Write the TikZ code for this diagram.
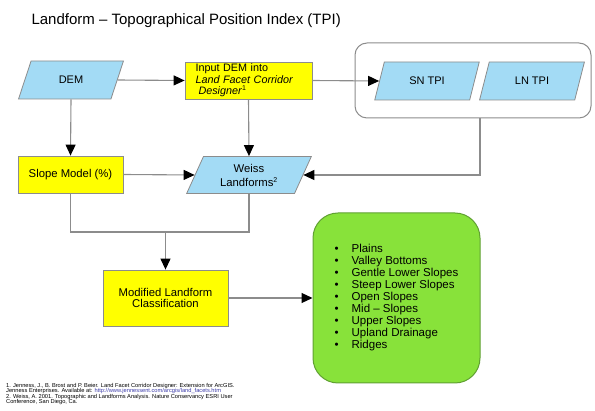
\documentclass[tikz,border=0pt]{standalone}
\usepackage{fontspec}
\setmainfont{Liberation Sans}
\usetikzlibrary{shapes.geometric,arrows.meta}

\definecolor{tpiblue}{RGB}{163,219,245}
\definecolor{tpiyellow}{RGB}{255,255,0}
\definecolor{tpigreen}{RGB}{136,226,58}
\definecolor{tpigreenline}{RGB}{96,160,50}
\definecolor{tpigray}{RGB}{140,140,140}
\definecolor{tpilink}{RGB}{60,60,170}

\tikzset{
  databox/.style={trapezium, trapezium left angle=65, trapezium right angle=115,
    trapezium stretches=true, draw=tpigray, fill=tpiblue, line width=0.8pt,
    font=\fontsize{11}{13}\selectfont, align=center, inner sep=0.5pt},
  procbox/.style={rectangle, draw=tpigray, fill=tpiyellow, line width=0.8pt,
    font=\fontsize{11.3}{11.5}\selectfont, align=center, inner sep=0.5pt},
  flowline/.style={draw=tpigray, line width=1.1pt},
  flowarrow/.style={flowline, -{Triangle[length=11pt,width=10pt,color=black]}}
}

\begin{document}
\begin{tikzpicture}[x=1pt,y=-1pt]
      \useasboundingbox (0,0) rectangle (595,411);

      \node[anchor=west, font=\fontsize{15}{17}\selectfont] (title) at (28,21)
           {Landform -- Topographical Position Index (TPI)};

      % inputs and TPI grids
      \node[databox, minimum width=105pt, minimum height=38pt] (dem) at (71,80) {DEM};
      \node[procbox, minimum width=127pt, minimum height=37pt, align=left, inner sep=0pt,
            text width=106pt, font=\fontsize{10.8}{11.6}\selectfont] (input) at (248.5,80.5)
           {Input DEM into\\\textit{Land Facet Corridor}\\\hspace*{3pt}\textit{Designer}\textsuperscript{\scriptsize 1}};
      \node[draw=tpigray, line width=1pt, rounded corners=12pt,
            minimum width=236pt, minimum height=75pt] (group) at (473,80.5) {};
      \node[databox, minimum width=105pt, minimum height=38pt] (sn) at (427,81) {SN TPI};
      \node[databox, minimum width=105pt, minimum height=38pt] (ln) at (532,81) {LN TPI};

      % models
      \node[procbox, minimum width=105pt, minimum height=37pt] (slope) at (70.5,174.5) {Slope Model (\%)};
      \node[databox, minimum width=125pt, minimum height=37pt,
            font=\fontsize{11.3}{14}\selectfont] (weiss) at (249,175)
           {Weiss\\Landforms\textsuperscript{\scriptsize 2}};
      \node[procbox, minimum width=125pt, minimum height=56pt] (modified) at (165.5,298)
           {Modified Landform\\Classification};

      % landform classes
      \node[draw=tpigreenline, fill=tpigreen, line width=1pt, rounded corners=25pt,
            minimum width=167pt, minimum height=170pt, inner sep=0pt,
            font=\fontsize{11.5}{12}\selectfont] (classes) at (396.5,298)
           {\begin{tabular}{@{}l@{\hspace{13pt}}l@{}}
              \textbullet & Plains\\
              \textbullet & Valley Bottoms\\
              \textbullet & Gentle Lower Slopes\\
              \textbullet & Steep Lower Slopes\\
              \textbullet & Open Slopes\\
              \textbullet & Mid -- Slopes\\
              \textbullet & Upper Slopes\\
              \textbullet & Upland Drainage\\
              \textbullet & Ridges
            \end{tabular}};

      \node[anchor=north west, align=left, inner sep=0pt,
            font=\fontsize{5.7}{5.5}\selectfont] (notes) at (6,383)
           {1. Jenness, J., B. Brost and P. Beier. Land Facet Corridor Designer: Extension for ArcGIS.\\
            Jenness Enterprises. Available at: \textcolor{tpilink}{http://www.jennessent.com/arcgis/land\_facets.htm}\\
            2. Weiss, A. 2001. Topographic and Landforms Analysis. Nature Conservancy ESRI User\\
            Conference, San Diego, Ca.};

      % connectors
      \draw[flowarrow] (dem.east) -- (input.west);
      \draw[flowarrow] (dem.south) -- (slope.north);
      \draw[flowarrow] (input.east) -- (sn.west);
      \draw[flowarrow] (input.south) -- (weiss.north);
      \draw[flowarrow] (slope.east) -- (weiss.west);
      \draw[flowarrow] ([xshift=7pt]group.south) |- (weiss.east);

      \coordinate (join) at (165.5,232);
      \draw[flowline] (slope.south) |- (join) -| (weiss.south);
      \draw[flowarrow] (join) -- (modified.north);
      \draw[flowarrow] (modified.east) -- (classes.west);
    \end{tikzpicture}
\end{document}
